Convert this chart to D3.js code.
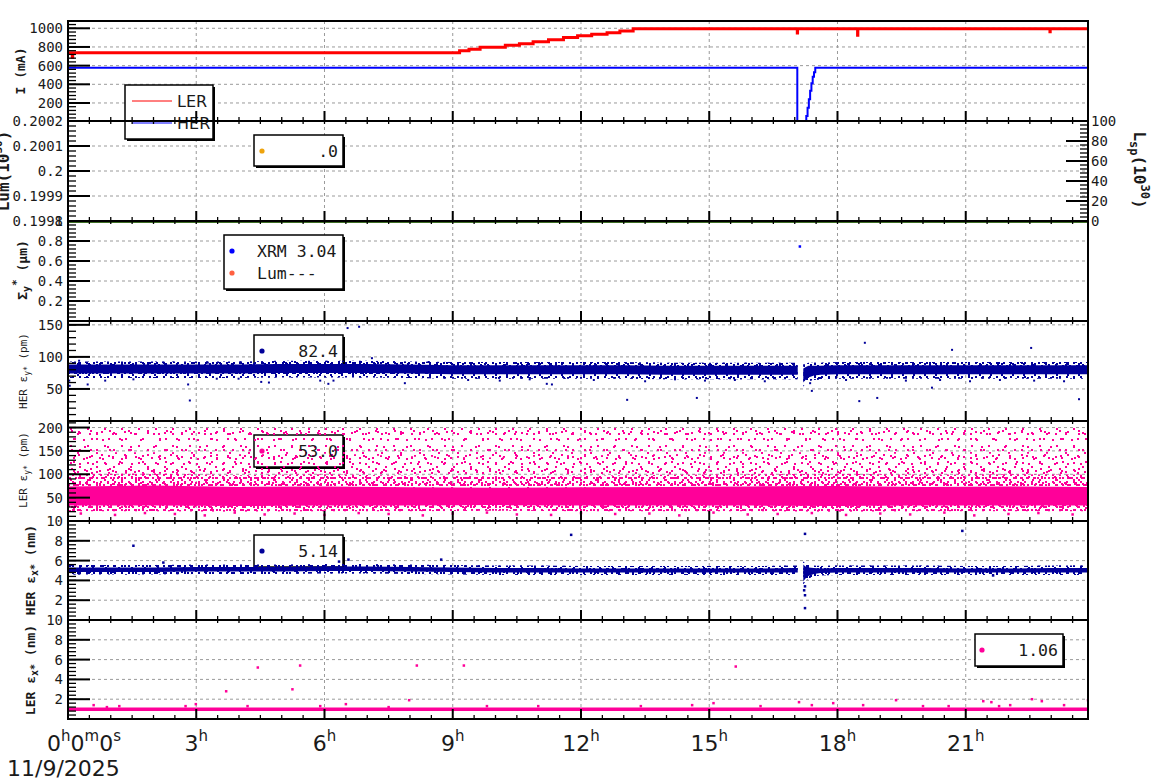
<!DOCTYPE html>
<html><head><meta charset="utf-8">
<script src="https://cdn.jsdelivr.net/npm/d3@7"></script>
<style>body{margin:0;background:#fff;} svg{display:block;}</style>
</head><body><svg id="c" width="1160" height="782"></svg>
<script>
// ---------------- DATA ----------------
const timeDomain = [0, 23.86];
const xMajorTicks = [0, 3, 6, 9, 12, 15, 18, 21];
const xTickLabels = ["0h0m0s", "3h", "6h", "9h", "12h", "15h", "18h", "21h"];
const dateLabel = "11/9/2025";

// Panel 1: beam currents (mA)
const lerT = [0, 0.10, 0.11, 9.16, 9.38, 9.64, 10.23, 10.56, 10.88, 11.24, 11.59, 11.92, 12.25, 12.61, 12.91, 13.22, 17.060, 17.066, 18.470, 18.476, 22.970, 22.976, 23.86];
const lerI = [738, 690, 738, 760, 775, 797, 818, 835, 857, 878, 900, 921, 936, 953, 971, 994, 950, 994, 925, 994, 962, 994, 994];
const herT = [0, 17.05, 17.06, 17.25, 17.27, 17.30, 17.33, 17.36, 17.39, 17.42, 17.45, 17.48, 23.86];
const herI = [576, 576, 0, 0, 60, 150, 240, 330, 410, 480, 530, 576, 576];
const currentTicks = [200, 400, 600, 800, 1000];
const currentTickLabels = ["200", "400", "600", "800", "1000"];
const currentLegend = ["LER", "HER"];

// Panel 2: luminosity
const lumTicks = [0.1998, 0.1999, 0.2, 0.2001, 0.2002];
const lumTickLabels = ["0.1998", "0.1999", "0.2", "0.2001", "0.2002"];
const lspTicks = [0, 20, 40, 60, 80, 100];
const lspTickLabels = ["0", "20", "40", "60", "80", "100"];
const lspT = [0, 23.86];
const lspV = [0, 0];
const lumLegend = [".0"];

// Panel 3: Sigma_y*
const sigmaTicks = [0.2, 0.4, 0.6, 0.8, 1];
const sigmaTickLabels = ["0.2", "0.4", "0.6", "0.8", "1"];
const xrmT = [17.12];
const xrmV = [0.745];
const sigmaLegend = ["XRM 3.04", "Lum---"];

// Panel 4: HER eps_y* (pm)
const herEyTicks = [50, 100, 150];
const herEyTickLabels = ["50", "100", "150"];
const herEyT      = [0, 1, 2, 3, 4, 5, 6, 7, 8, 9, 10, 11, 12, 13, 14, 15, 16, 17, 17.07, 17.12, 17.2, 17.25, 17.32, 17.45, 17.6, 18, 19, 20, 21, 22, 23, 23.86];
const herEyCoreLo = [74, 74, 74, 74, 74, 75, 75, 75, 74, 73, 73, 73, 73, 73, 72, 72, 72, 72, 72, NaN, 60, 64, 68, 71, 72, 73, 73, 73, 73, 73, 73, 73];
const herEyCoreHi = [88, 88, 88, 88, 88, 89, 89, 89, 88, 87, 87, 87, 87, 87, 86, 86, 86, 86, 86, NaN, 82, 84, 86, 86, 86, 87, 87, 87, 87, 87, 87, 87];
const herEyHaloLo = [67, 67, 67, 67, 67, 68, 68, 68, 67, 66, 66, 66, 66, 66, 65, 65, 65, 65, 65, NaN, 54, 58, 62, 64, 65, 66, 66, 66, 66, 66, 66, 66];
const herEyHaloHi = [93, 93, 93, 93, 93, 94, 94, 94, 93, 92, 92, 92, 92, 92, 91, 91, 91, 91, 91, NaN, 88, 89, 91, 91, 91, 92, 92, 92, 92, 92, 92, 92];
const herEyOutT = [0.03, 0.04, 0.26, 0.46, 0.87, 1.53, 2.24, 2.81, 2.85, 3.27, 3.48, 3.99, 4.03, 4.52, 4.7, 5.9, 6.09, 6.21, 6.54, 6.81, 7.11, 7.88, 8.44, 9.36, 10.1, 10.8, 11.2, 11.32, 12.3, 13.08, 13.5, 14.2, 14.71, 14.9, 15.6, 16.3, 17.36, 17.4, 18.2, 18.51, 18.64, 18.93, 19.6, 20.21, 20.4, 20.68, 21.1, 21.8, 22.53, 22.6, 23.3, 23.65];
const herEyOutV = [63, 55, 94, 57, 63, 65, 91, 57, 32, 91, 66, 66, 91, 61, 60, 63, 58, 63, 145, 147, 98, 59, 92, 64, 63, 65, 58, 57, 64, 33, 62, 65, 36, 63, 64, 62, 59, 47, 64, 31, 122, 36, 63, 52, 64, 111, 62, 64, 114, 63, 62, 34];
const herEyLegend = ["82.4"];

// Panel 5: LER eps_y* (pm)
const lerEyTicks = [50, 100, 150, 200];
const lerEyTickLabels = ["50", "100", "150", "200"];
const lerEyT        = [0, 2, 4, 6, 8, 10, 12, 14, 16, 18, 20, 22, 23.86];
const lerEyCoreLo   = [33, 33, 32, 33, 33, 34, 33, 33, 33, 32, 33, 33, 33];
const lerEyCoreHi   = [74, 76, 73, 74, 72, 71, 72, 73, 74, 75, 73, 74, 73];
const lerEyDenseLo  = [21, 21, 20, 21, 21, 22, 21, 21, 21, 20, 21, 21, 21];
const lerEyDenseHi  = [100, 102, 98, 100, 97, 96, 97, 99, 100, 101, 99, 100, 99];
const lerEyMidHi    = [145, 147, 142, 145, 138, 136, 140, 143, 145, 147, 143, 145, 143];
const lerEySparseHi = [200, 200, 200, 200, 200, 200, 200, 200, 200, 200, 200, 200, 200];
const lerEyOutT = [0.3, 1.1, 1.8, 2.5, 3.2, 3.9, 4.6, 5.3, 6.0, 6.8, 7.5, 8.3, 9.0, 9.8, 10.5, 11.3, 12.0, 12.8, 13.6, 14.3, 15.1, 15.9, 16.6, 17.4, 18.2, 19.0, 19.7, 20.5, 21.2, 22.0, 22.7, 23.5];
const lerEyOutV = [16, 13, 17, 15, 12, 18, 14, 16, 13, 17, 15, 12, 16, 18, 14, 13, 17, 15, 16, 12, 18, 14, 15, 17, 13, 16, 14, 18, 12, 15, 17, 14];
const lerEyLegend = ["53.0"];

// Panel 6: HER eps_x* (nm)
const herExTicks = [2, 4, 6, 8, 10];
const herExTickLabels = ["2", "4", "6", "8", "10"];
const herExT      = herEyT;
const herExCoreLo = [4.85, 4.85, 4.85, 4.9, 4.9, 4.9, 4.95, 4.95, 4.9, 4.85, 4.8, 4.8, 4.8, 4.8, 4.8, 4.8, 4.8, 4.8, 4.8, NaN, 3.9, 4.2, 4.45, 4.65, 4.75, 4.8, 4.8, 4.8, 4.8, 4.8, 4.8, 4.8];
const herExCoreHi = [5.3, 5.3, 5.3, 5.35, 5.35, 5.35, 5.4, 5.4, 5.35, 5.3, 5.25, 5.25, 5.2, 5.2, 5.2, 5.2, 5.2, 5.25, 5.25, NaN, 5.6, 5.4, 5.3, 5.25, 5.2, 5.25, 5.25, 5.25, 5.2, 5.2, 5.25, 5.25];
const herExHaloLo = [4.6, 4.6, 4.6, 4.65, 4.65, 4.65, 4.7, 4.7, 4.65, 4.6, 4.55, 4.55, 4.55, 4.55, 4.55, 4.55, 4.55, 4.55, 4.55, NaN, 3.6, 3.9, 4.2, 4.4, 4.5, 4.55, 4.55, 4.55, 4.55, 4.55, 4.55, 4.55];
const herExHaloHi = [5.55, 5.55, 5.55, 5.6, 5.6, 5.6, 5.65, 5.65, 5.6, 5.55, 5.5, 5.5, 5.45, 5.45, 5.45, 5.45, 5.45, 5.5, 5.5, NaN, 5.9, 5.65, 5.55, 5.5, 5.45, 5.5, 5.5, 5.5, 5.45, 5.45, 5.5, 5.5];
const herExOutT = [0.26, 1.53, 2.23, 6.34, 6.56, 8.73, 11.77, 17.24, 17.24, 17.24, 17.24, 17.22, 20.92, 21.64];
const herExOutV = [4.7, 7.5, 5.8, 5.9, 6.1, 6.1, 8.6, 8.7, 3.4, 2.5, 1.2, 3.0, 9.0, 4.5];
const herExLegend = ["5.14"];

// Panel 7: LER eps_x* (nm)
const lerExTicks = [2, 4, 6, 8, 10];
const lerExTickLabels = ["2", "4", "6", "8", "10"];
const lerExT  = [0, 23.86];
const lerExLo = [0.8, 0.8];
const lerExHi = [1.15, 1.15];
const lerExOutT = [0.6, 0.91, 1.2, 2.75, 2.99, 3.7, 4.2, 4.44, 5.25, 5.43, 5.9, 6.5, 7.5, 7.98, 8.16, 9.26, 9.8, 11.0, 13.4, 14.6, 15.1, 15.62, 16.2, 17.1, 17.4, 17.9, 18.6, 19.37, 20.0, 20.6, 21.41, 21.6, 21.78, 22.04, 22.55, 22.78, 23.3, 23.86];
const lerExOutV = [1.4, 1.2, 1.3, 1.3, 1.5, 2.8, 1.3, 5.2, 3.0, 5.4, 1.3, 1.5, 1.2, 1.9, 5.4, 5.4, 1.3, 1.3, 1.3, 1.4, 1.6, 5.3, 1.3, 1.7, 1.4, 1.6, 1.4, 1.9, 1.3, 1.3, 1.8, 1.7, 1.3, 1.4, 2.0, 1.8, 1.4, 1.9];
const lerExLegend = ["1.06"];

// ---------------- DRAWING ----------------
const svg = d3.select("#c");
const X0 = 68, X1 = 1088;
const tops = [21, 121, 221, 321, 421, 521, 620];
const bots = [121, 221, 321, 421, 521, 620, 719];
const MONO = "'DejaVu Sans Mono', monospace";
const SANS = "'DejaVu Sans', sans-serif";
const TXT = "#1a1a1a";
const COL = {red: "#ff0000", blue: "#0000ff", navy: "#000099", pink: "#ff0099", orange: "#eea30c", tomato: "#ff6040", green: "#3f6f26", grid: "#9a9a9a"};

const x = d3.scaleLinear().domain(timeDomain).range([X0, X1]);
const yS = [
  d3.scaleLinear().domain([7, 1078]).range([bots[0], tops[0]]),
  d3.scaleLinear().domain([0.1998, 0.2002]).range([bots[1], tops[1]]),
  d3.scaleLinear().domain([0, 1]).range([bots[2], tops[2]]),
  d3.scaleLinear().domain([0, 156]).range([bots[3], tops[3]]),
  d3.scaleLinear().domain([0, 214]).range([bots[4], tops[4]]),
  d3.scaleLinear().domain([0, 10]).range([bots[5], tops[5]]),
  d3.scaleLinear().domain([0, 10]).range([bots[6], tops[6]])
];
const yLsp = d3.scaleLinear().domain([0, 100]).range([bots[1], tops[1]]);

const defs = svg.append("defs");
tops.forEach((t, i) => {
  defs.append("clipPath").attr("id", "clip" + i).append("rect")
    .attr("x", X0).attr("y", t).attr("width", X1 - X0).attr("height", bots[i] - t);
});
// speckle tiles of coprime sizes (styling for dense scatter clouds)
const tiles = {
  A: {s: 17, d: [[2, 3], [11, 7], [6, 13]]},
  B: {s: 23, d: [[4, 1], [15, 9], [9, 17], [20, 19]]},
  C: {s: 13, d: [[1, 8], [8, 2]]},
  D: {s: 11, d: [[3, 4], [8, 9], [0, 0]]},
  E: {s: 7, d: [[2, 5], [5, 1]]},
  F: {s: 19, d: [[7, 2], [14, 12], [1, 15]]}
};
function pattern(id, color, tile) {
  const p = defs.append("pattern").attr("id", id).attr("patternUnits", "userSpaceOnUse")
    .attr("width", tile.s).attr("height", tile.s);
  p.selectAll("rect").data(tile.d).join("rect")
    .attr("x", d => d[0]).attr("y", d => d[1]).attr("width", 2).attr("height", 2).attr("fill", color);
}
Object.keys(tiles).forEach(k => {
  pattern("pink" + k, "#ff0099", tiles[k]);
  pattern("navy" + k, "#000099", tiles[k]);
});

const gGrid = svg.append("g");
const gBox = svg.append("g");
const gData = svg.append("g");
const gLeg = svg.append("g");
const gFrame = svg.append("g");
const gText = svg.append("g");

// ---- grids ----
tops.forEach((t, i) => {
  xMajorTicks.filter(v => v > 0).forEach(v => {
    gGrid.append("line").attr("x1", x(v)).attr("x2", x(v)).attr("y1", t).attr("y2", bots[i])
      .attr("stroke", COL.grid).attr("stroke-dasharray", "3,3").attr("stroke-width", 1);
  });
});
const yMajors = [currentTicks, lumTicks, sigmaTicks, herEyTicks, lerEyTicks, herExTicks, lerExTicks];
yMajors.forEach((ticks, i) => {
  ticks.forEach(v => {
    const yy = yS[i](v);
    if (yy > tops[i] + 1 && yy < bots[i] - 1) {
      gGrid.append("line").attr("x1", X0).attr("x2", X1).attr("y1", yy).attr("y2", yy)
        .attr("stroke", COL.grid).attr("stroke-dasharray", "3,3").attr("stroke-width", 1);
    }
  });
});

// ---- legend boxes ----
function legendBox(x0, y0, w, h) {
  gBox.append("rect").attr("x", x0 + 2).attr("y", y0 + 2).attr("width", w).attr("height", h).attr("fill", "#000");
  gBox.append("rect").attr("x", x0).attr("y", y0).attr("width", w).attr("height", h)
    .attr("fill", "#fff").attr("stroke", "#000").attr("stroke-width", 1.5);
}
legendBox(125, 85, 88, 54);
legendBox(254, 135, 89, 31);
legendBox(224, 235, 119, 54);
legendBox(254, 335, 89, 32);
legendBox(254, 435, 89, 32);
legendBox(254, 535, 89, 32);
legendBox(975, 634, 88, 32);

// ---- data ----
function panelG(i) { return gData.append("g").attr("clip-path", `url(#clip${i})`); }
function zip2(t, v) { return t.map((d, k) => ({t: d, v: v[k]})); }
function bandData(t, lo, hi) { return t.map((d, k) => ({t: d, lo: lo[k], hi: hi[k]})); }
function band(g, y, data, fills) {
  const a = d3.area().defined(d => !isNaN(d.lo)).x(d => x(d.t)).y0(d => y(d.lo)).y1(d => y(d.hi));
  const dd = a(data);
  fills.forEach(f => g.append("path").attr("d", dd).attr("fill", f));
}
function dots(g, y, t, v, color, s) {
  g.selectAll(null).data(zip2(t, v)).join("rect")
    .attr("x", d => x(d.t) - s / 2).attr("y", d => y(d.v) - s / 2)
    .attr("width", s).attr("height", s).attr("fill", color);
}
const pat = (c, ks) => ks.map(k => `url(#${c}${k})`);

// Panel 1
{
  const g = panelG(0);
  const line = d3.line().curve(d3.curveStepAfter).x(d => x(d.t)).y(d => yS[0](d.v));
  g.append("path").attr("d", line(zip2(herT, herI))).attr("fill", "none").attr("stroke", COL.blue).attr("stroke-width", 2);
  g.append("path").attr("d", line(zip2(lerT, lerI))).attr("fill", "none").attr("stroke", COL.red).attr("stroke-width", 3);
}
// Panel 2
{
  const line = d3.line().x(d => x(d.t)).y(d => yLsp(d.v));
  gData.append("path").attr("d", line(zip2(lspT, lspV))).attr("fill", "none")
    .attr("stroke", COL.green).attr("stroke-width", 2).attr("transform", "translate(0,1)");
}
// Panel 3
{
  const g = panelG(2);
  dots(g, yS[2], xrmT, xrmV, COL.blue, 2.5);
}
// Panel 4
{
  const g = panelG(3);
  band(g, yS[3], bandData(herEyT, herEyHaloLo, herEyHaloHi), pat("navy", ["A", "B", "C", "D", "E"]));
  band(g, yS[3], bandData(herEyT, herEyCoreLo, herEyCoreHi), [COL.navy]);
  dots(g, yS[3], herEyOutT, herEyOutV, COL.navy, 2);
}
// Panel 5
{
  const g = panelG(4);
  band(g, yS[4], bandData(lerEyT, lerEyMidHi, lerEySparseHi), pat("pink", ["A", "B", "F"]));
  band(g, yS[4], bandData(lerEyT, lerEyDenseHi, lerEyMidHi), pat("pink", ["A", "B", "C", "F"]));
  band(g, yS[4], bandData(lerEyT, lerEyDenseLo, lerEyDenseHi), pat("pink", ["A", "B", "C", "D", "E", "F"]));
  band(g, yS[4], bandData(lerEyT, lerEyCoreLo, lerEyCoreHi), [COL.pink]);
  dots(g, yS[4], lerEyOutT, lerEyOutV, COL.pink, 2.5);
}
// Panel 6
{
  const g = panelG(5);
  band(g, yS[5], bandData(herExT, herExHaloLo, herExHaloHi), pat("navy", ["A", "B", "C", "D", "E"]));
  band(g, yS[5], bandData(herExT, herExCoreLo, herExCoreHi), [COL.navy]);
  dots(g, yS[5], herExOutT, herExOutV, COL.navy, 2.5);
}
// Panel 7
{
  const g = panelG(6);
  band(g, yS[6], bandData(lerExT, lerExLo, lerExHi), [COL.pink]);
  dots(g, yS[6], lerExOutT, lerExOutV, COL.pink, 2.5);
}

// ---- legend contents ----
function legText(tx, ty, s, anchor, font, size) {
  gLeg.append("text").attr("x", tx).attr("y", ty).attr("text-anchor", anchor)
    .attr("font-family", font).attr("font-size", size).attr("fill", TXT).text(s);
}
function legDot(cx, cy, color) {
  gLeg.append("circle").attr("cx", cx).attr("cy", cy).attr("r", 2.6).attr("fill", color);
}
[[COL.red, 101], [COL.blue, 123]].forEach((c, k) => {
  gLeg.append("line").attr("x1", 132).attr("x2", 172).attr("y1", c[1]).attr("y2", c[1]).attr("stroke", c[0]).attr("stroke-width", 1);
  legText(177, c[1] + 6, currentLegend[k], "start", SANS, 16);
});
legDot(262, 151, COL.orange); legText(338, 157, lumLegend[0], "end", MONO, 16.5);
legDot(232, 251, COL.blue); legText(257, 257, sigmaLegend[0], "start", MONO, 16.5);
legDot(232, 273, COL.tomato); legText(257, 279, sigmaLegend[1], "start", MONO, 16.5);
legDot(262, 351, COL.navy); legText(338, 357, herEyLegend[0], "end", MONO, 16.5);
legDot(262, 451, COL.pink); legText(338, 457, lerEyLegend[0], "end", MONO, 16.5);
legDot(262, 551, COL.navy); legText(338, 557, herExLegend[0], "end", MONO, 16.5);
legDot(982, 650, COL.pink); legText(1058, 656, lerExLegend[0], "end", MONO, 16.5);

// ---- frames & ticks ----
const yMinorStep = [40, 0.00002, 0.04, 10, 10, 0.4, 0.4];
const yLabels = [currentTickLabels, lumTickLabels, sigmaTickLabels, herEyTickLabels, lerEyTickLabels, herExTickLabels, lerExTickLabels];
const xMinor = d3.range(0, timeDomain[1], 0.5);
tops.forEach((t, i) => {
  const b = bots[i];
  const y = yS[i];
  xMinor.forEach(v => {
    const isMaj = xMajorTicks.includes(v);
    gFrame.append("line").attr("x1", x(v)).attr("x2", x(v)).attr("y1", b).attr("y2", b - (isMaj ? 10 : 4))
      .attr("stroke", "#000").attr("stroke-width", isMaj ? 2 : 1.3);
    if (i > 0) {
      gFrame.append("line").attr("x1", x(v)).attr("x2", x(v)).attr("y1", t).attr("y2", t + 3)
        .attr("stroke", "#000").attr("stroke-width", 1.3);
    }
  });
  const [d0, d1] = y.domain();
  const ms = yMinorStep[i];
  for (let k = Math.ceil(d0 / ms - 1e-6); k * ms <= d1 + 1e-9; k++) {
    const yy = y(k * ms);
    gFrame.append("line").attr("x1", X0).attr("x2", X0 + 8).attr("y1", yy).attr("y2", yy)
      .attr("stroke", "#000").attr("stroke-width", 1.3);
  }
  yMajors[i].forEach((v, k) => {
    const yy = y(v);
    gFrame.append("line").attr("x1", X0).attr("x2", X0 + 22).attr("y1", yy).attr("y2", yy)
      .attr("stroke", "#000").attr("stroke-width", 2);
    gText.append("text").attr("x", 63).attr("y", yy).attr("dy", "0.36em").attr("text-anchor", "end")
      .attr("font-family", MONO).attr("font-size", 14).attr("fill", TXT).text(yLabels[i][k]);
  });
  gFrame.append("rect").attr("x", X0).attr("y", t).attr("width", X1 - X0).attr("height", b - t)
    .attr("fill", "none").attr("stroke", "#000").attr("stroke-width", 2);
});
for (let v = 0; v <= 100; v += 4) {
  const isMaj = v % 20 === 0;
  gFrame.append("line").attr("x1", X1).attr("x2", X1 - (isMaj ? 22 : 8)).attr("y1", yLsp(v)).attr("y2", yLsp(v))
    .attr("stroke", "#000").attr("stroke-width", isMaj ? 2 : 1.3);
}
lspTicks.forEach((v, k) => {
  gText.append("text").attr("x", 1091).attr("y", yLsp(v)).attr("dy", "0.36em").attr("text-anchor", "start")
    .attr("font-family", MONO).attr("font-size", 14).attr("fill", TXT).text(lspTickLabels[k]);
});

// ---- x axis labels ----
xMajorTicks.forEach((v, k) => {
  const txt = gText.append("text").attr("y", 751).attr("font-family", SANS).attr("font-size", 22).attr("fill", TXT);
  if (k === 0) txt.attr("x", 47).attr("text-anchor", "start");
  else txt.attr("x", x(v)).attr("text-anchor", "middle");
  const parts = [...xTickLabels[k].matchAll(/(\d+)([hms])/g)];
  parts.forEach((p, j) => {
    txt.append("tspan").attr("dy", j === 0 ? 0 : 10).text(p[1]);
    txt.append("tspan").attr("dy", -10).attr("font-size", 15).text(p[2]);
  });
});
gText.append("text").attr("x", 7).attr("y", 776).attr("font-family", SANS).attr("font-size", 22).attr("fill", TXT).text(dateLabel);

// ---- axis titles ----
function title(bx, cy, rot, size, weight, build, clip) {
  const g = gText.append("g");
  if (clip !== undefined) g.attr("clip-path", `url(#tclip${clip})`);
  const t = g.append("text").attr("transform", `translate(${bx},${cy}) rotate(${rot})`)
    .attr("text-anchor", "middle").attr("font-family", MONO).attr("font-size", size)
    .attr("font-weight", weight).attr("fill", TXT);
  build(t);
}
defs.append("clipPath").attr("id", "tclip1").append("rect").attr("x", 0).attr("y", 121).attr("width", 60).attr("height", 100);
title(25, 71, -90, 13, "bold", t => t.text("I (mA)"));
title(9, 171, -90, 16, "bold", t => {
  t.append("tspan").text("Lum(10");
  t.append("tspan").attr("dy", -7).attr("font-size", 11).text("30");
  t.append("tspan").attr("dy", 7).text(")");
}, 1);
title(27, 270, -90, 13, "bold", t => {
  t.append("tspan").text("Σ");
  t.append("tspan").attr("dy", 3).attr("font-size", 10).text("y");
  t.append("tspan").attr("dy", -10).attr("font-size", 11).text("*");
  t.append("tspan").attr("dy", 7).text(" (μm)");
});
title(27, 371, -90, 11, "normal", t => {
  t.append("tspan").text("HER ε");
  t.append("tspan").attr("dy", 3).attr("font-size", 8).text("y*");
  t.append("tspan").attr("dy", -3).text(" (pm)");
});
title(27, 470, -90, 11, "normal", t => {
  t.append("tspan").text("LER ε");
  t.append("tspan").attr("dy", 3).attr("font-size", 8).text("y*");
  t.append("tspan").attr("dy", -3).text(" (pm)");
});
title(35, 570, -90, 13, "bold", t => {
  t.append("tspan").text("HER ε");
  t.append("tspan").attr("dy", 3).attr("font-size", 10).text("x*");
  t.append("tspan").attr("dy", -3).text(" (nm)");
});
title(35, 670, -90, 13, "bold", t => {
  t.append("tspan").text("LER ε");
  t.append("tspan").attr("dy", 3).attr("font-size", 10).text("x*");
  t.append("tspan").attr("dy", -3).text(" (nm)");
});
title(1134, 170, 90, 16, "bold", t => {
  t.append("tspan").text("L");
  t.append("tspan").attr("dy", 4).attr("font-size", 12).text("sp");
  t.append("tspan").attr("dy", -4).text("(10");
  t.append("tspan").attr("dy", -7).attr("font-size", 12).text("30");
  t.append("tspan").attr("dy", 7).text(")");
});
</script></body></html>
